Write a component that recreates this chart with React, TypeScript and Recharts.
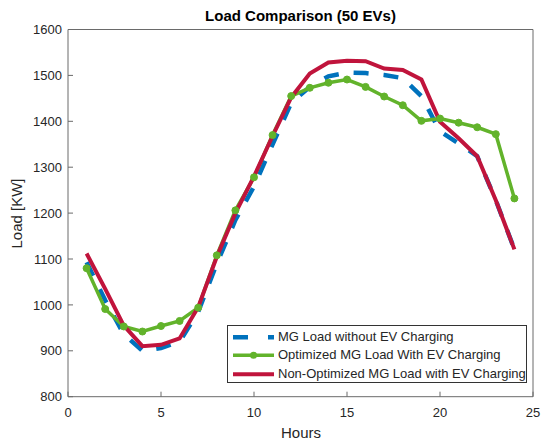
import React from 'react';
import { LineChart, Line, XAxis, YAxis, Legend, Label } from 'recharts';

const hours = [1, 2, 3, 4, 5, 6, 7, 8, 9, 10, 11, 12, 13, 14, 15, 16, 17, 18, 19, 20, 21, 22, 23, 24];
const mgLoad = [1093, 1010, 936, 900, 906, 920, 985, 1090, 1185, 1258, 1350, 1440, 1475, 1498, 1506, 1505, 1501, 1494, 1455, 1378, 1352, 1324, 1228, 1121];
const optimized = [1080, 991, 953, 942, 954, 965, 994, 1108, 1206, 1278, 1370, 1455, 1473, 1484, 1491, 1475, 1454, 1435, 1401, 1406, 1397, 1387, 1372, 1232];
const nonOptimized = [1112, 1035, 955, 910, 913, 927, 995, 1105, 1200, 1280, 1368, 1452, 1504, 1528, 1532, 1531, 1515, 1512, 1491, 1399, 1363, 1324, 1228, 1121];

const xTicks = [0, 5, 10, 15, 20, 25];
const yTicks = [800, 900, 1000, 1100, 1200, 1300, 1400, 1500, 1600];

const seriesNames = [
  'MG Load without EV Charging',
  'Optimized MG Load With EV Charging',
  'Non-Optimized MG Load with EV Charging',
];

const BLUE = '#0072BD';
const GREEN = '#62b32b';
const RED = '#c0143c';
const AXIS = '#6a6a6a';
const TEXT = '#262626';
const FONT = '"Liberation Sans", Arial, Helvetica, sans-serif';

const data = hours.map((h, i) => ({
  hour: h,
  mg: mgLoad[i],
  opt: optimized[i],
  non: nonOptimized[i],
}));

const renderLegend = () => (
  <div
    style={{
      boxSizing: 'border-box',
      width: 300,
      height: 58,
      border: '1px solid #333',
      background: '#fff',
      paddingTop: 1.5,
      fontFamily: FONT,
      fontSize: 13,
      color: TEXT,
    }}
  >
    {seriesNames.map((name, i) => (
      <div key={name} style={{ display: 'flex', alignItems: 'center', height: 18.5, lineHeight: '18.5px', whiteSpace: 'nowrap' }}>
        <svg width={46} height={18.5} style={{ marginLeft: 4.5, flex: 'none' }}>
          {i === 0 && <line x1={1} y1={9.25} x2={42} y2={9.25} stroke={BLUE} strokeWidth={4.5} strokeDasharray="15 20" />}
          {i === 1 && (
            <>
              <line x1={1} y1={9.25} x2={42} y2={9.25} stroke={GREEN} strokeWidth={3.5} />
              <circle cx={21.5} cy={9.25} r={3.5} fill={GREEN} />
            </>
          )}
          {i === 2 && <line x1={1} y1={9.25} x2={42} y2={9.25} stroke={RED} strokeWidth={4} />}
        </svg>
        <span>{name}</span>
      </div>
    ))}
  </div>
);

export default function App() {
  return (
    <div style={{ position: 'absolute', left: 0, top: 0, width: 550, height: 448, background: '#fff' }}>
      <LineChart width={550} height={448} data={data} margin={{ top: 28.5, right: 16, bottom: 21.3, left: 8 }}>
        <XAxis
          dataKey="hour"
          type="number"
          domain={[0, 25]}
          ticks={xTicks}
          allowDataOverflow
          height={30}
          tickSize={-5}
          tickMargin={16}
          axisLine={{ stroke: AXIS }}
          tickLine={{ stroke: AXIS }}
          tick={{ fill: TEXT, fontSize: 13, fontFamily: FONT }}
        >
          <Label
            content={() => (
              <text x={301} y={438} textAnchor="middle" fill={TEXT} fontSize={15} fontFamily={FONT}>
                Hours
              </text>
            )}
          />
        </XAxis>
        <XAxis
          xAxisId="top"
          orientation="top"
          dataKey="hour"
          type="number"
          domain={[0, 25]}
          ticks={xTicks}
          allowDataOverflow
          height={1}
          tickSize={-5}
          tick={false}
          axisLine={{ stroke: AXIS }}
          tickLine={{ stroke: AXIS }}
        >
          <Label
            content={() => (
              <text x={300.5} y={21} textAnchor="middle" fill="#000" fontSize={15} fontWeight="bold" fontFamily={FONT}>
                Load Comparison (50 EVs)
              </text>
            )}
          />
        </XAxis>
        <YAxis
          type="number"
          domain={[800, 1600]}
          ticks={yTicks}
          allowDataOverflow
          width={60}
          tickSize={-5}
          tickMargin={11}
          axisLine={{ stroke: AXIS }}
          tickLine={{ stroke: AXIS }}
          tick={{ fill: TEXT, fontSize: 13, fontFamily: FONT }}
        >
          <Label
            content={() => (
              <text
                x={22}
                y={213.5}
                transform="rotate(-90 22 213.5)"
                textAnchor="middle"
                fill={TEXT}
                fontSize={15}
                fontFamily={FONT}
              >
                Load [KW]
              </text>
            )}
          />
        </YAxis>
        <YAxis
          yAxisId="right"
          orientation="right"
          type="number"
          domain={[800, 1600]}
          ticks={yTicks}
          allowDataOverflow
          width={1}
          tickSize={-5}
          tick={false}
          axisLine={{ stroke: AXIS }}
          tickLine={{ stroke: AXIS }}
        />
        <Legend
          layout="horizontal"
          verticalAlign="middle"
          align="center"
          content={renderLegend}
          wrapperStyle={{ position: 'absolute', left: 226.5, top: 325, width: 300, height: 58 }}
        />
        <Line
          xAxisId="top"
          yAxisId="right"
          type="linear"
          dataKey="mg"
          stroke="none"
          strokeOpacity={0}
          legendType="none"
          dot={false}
          activeDot={false}
          isAnimationActive={false}
        />
        <Line
          type="linear"
          dataKey="mg"
          name={seriesNames[0]}
          stroke={BLUE}
          strokeWidth={4.5}
          strokeDasharray="15 15"
          dot={false}
          activeDot={false}
          isAnimationActive={false}
        />
        <Line
          type="linear"
          dataKey="opt"
          name={seriesNames[1]}
          stroke={GREEN}
          strokeWidth={3.5}
          dot={{ r: 3.5, fill: GREEN, stroke: GREEN, strokeWidth: 1 }}
          activeDot={false}
          isAnimationActive={false}
        />
        <Line
          type="linear"
          dataKey="non"
          name={seriesNames[2]}
          stroke={RED}
          strokeWidth={4}
          dot={false}
          activeDot={false}
          isAnimationActive={false}
        />
      </LineChart>
    </div>
  );
}
